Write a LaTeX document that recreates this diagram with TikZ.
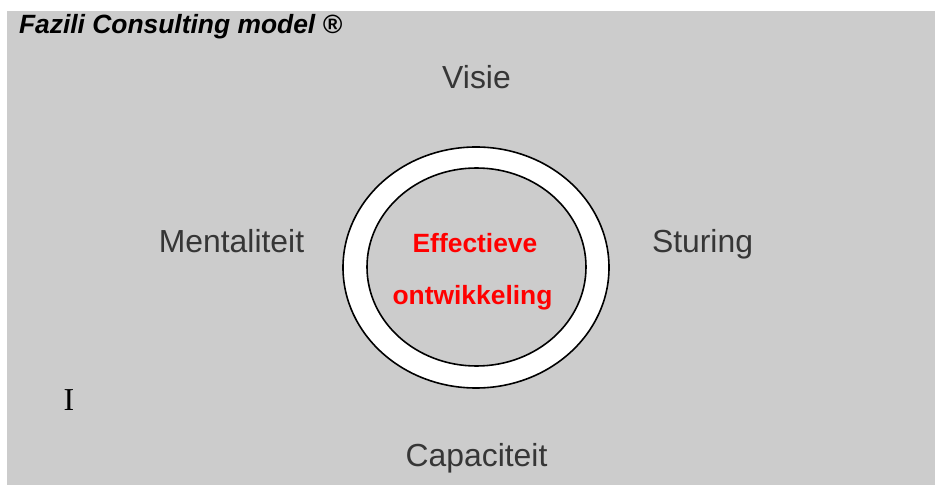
\documentclass[tikz,border=0pt]{standalone}
\usepackage{fontspec}
\setmainfont{Liberation Sans}
\newfontfamily\seriffont{Liberation Serif}
\usetikzlibrary{shapes.geometric}
\definecolor{panel}{HTML}{CCCCCC}
\definecolor{labelgray}{HTML}{363636}
\definecolor{accent}{HTML}{FF0000}
\tikzset{
  every node/.style={inner sep=0pt, outer sep=0pt},
  pillar/.style={anchor=base, text=labelgray, font=\fontsize{32}{38}\selectfont},
  core/.style={anchor=base, text=accent, font=\fontsize{26.5}{32}\selectfont\bfseries},
  ring/.style={ellipse, draw=black, line width=1.6pt},
}
\begin{document}
\begin{tikzpicture}[x=1bp, y=-1bp]
  \useasboundingbox (0,0) rectangle (935,485);
  % grey panel
  \fill[panel] (7,11) rectangle (935,485);

  % title
  \node[anchor=base west, font=\fontsize{26.5}{32}\selectfont\bfseries\itshape] (title) at (19,34) {Fazili Consulting model ®};

  % ring: white band between two ellipses
  \node[ring, fill=white, minimum width=266bp, minimum height=241bp] (outer) at (476,267.5) {};
  \node[ring, fill=panel, minimum width=219bp, minimum height=198bp] (inner) at (476.5,267) {};

  % centre text
  \node[core] (eff) at (475,253) {Effectieve};
  \node[core] (ont) at (472.5,305) {ontwikkeling};

  % four pillars
  \node[pillar] (visie) at (476.5,89) {Visie};
  \node[pillar] (mentaliteit) at (231.5,253) {Mentaliteit};
  \node[pillar] (sturing) at (702.5,253) {Sturing};
  \node[pillar] (capaciteit) at (476.5,466) {Capaciteit};

  % stray letter
  \node[anchor=base, font=\seriffont\fontsize{32}{38}\selectfont] (cursor) at (69,410) {I};
\end{tikzpicture}
\end{document}
